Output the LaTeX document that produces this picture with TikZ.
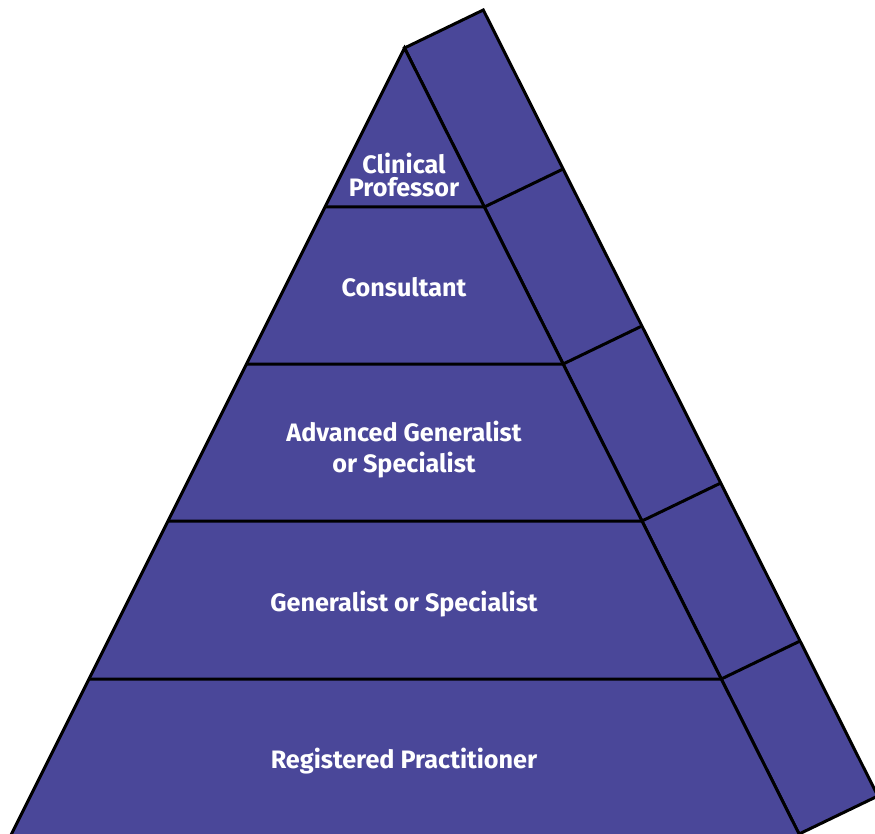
\documentclass[tikz,border=0pt]{standalone}
\usepackage{fontspec}
\setmainfont{Fira Sans}
\usetikzlibrary{calc}
\definecolor{pyr}{RGB}{74,71,153}
\begin{document}
\begin{tikzpicture}[x=1pt,y=-1pt,
  face/.style={fill=pyr,draw=black,line width=3pt,line join=miter},
  divider/.style={draw=black,line width=3pt},
  label/.style={text=white,font=\fontsize{25.2}{27}\selectfont\bfseries,align=center,inner sep=0pt}]
\useasboundingbox (0,0) rectangle (875,834);
\clip (0,0) rectangle (875,834);
% front triangle
\coordinate (A) at (404.5,48);
\coordinate (BL) at ({404.5-0.5*(860-48)},860);
\coordinate (BR) at ({404.5+0.502*(860-48)},860);
\coordinate (S) at ({404.5+0.502*(834-48)},834);
\coordinate (off) at (78.8,-38);
% side face
\draw[face] (A) -- ($(A)+(off)$) -- ($(S)+(off)$) -- (S) -- cycle;
\draw[face] (A) -- (BR) -- (BL) -- cycle;
% dividers
\foreach \y/\n in {207/a,364/b,521/c,679/d}{
  \coordinate (L\n) at ({404.5-0.5*(\y-48)},\y);
  \coordinate (R\n) at ({404.5+0.502*(\y-48)},\y);
  \draw[divider] (L\n) -- (R\n) -- ($(R\n)+(off)$);
}
% labels
\node[label] (cp) at (404,175) {Clinical\\[-4pt]Professor};
\node[label] (con) at (404,287) {Consultant};
\node[label] (adv) at (404,450) {Advanced Generalist\\[4pt]or Specialist};
\node[label] (gen) at (404,604) {Generalist or Specialist};
\node[label] (reg) at (404,761) {Registered Practitioner};
\end{tikzpicture}
\end{document}
